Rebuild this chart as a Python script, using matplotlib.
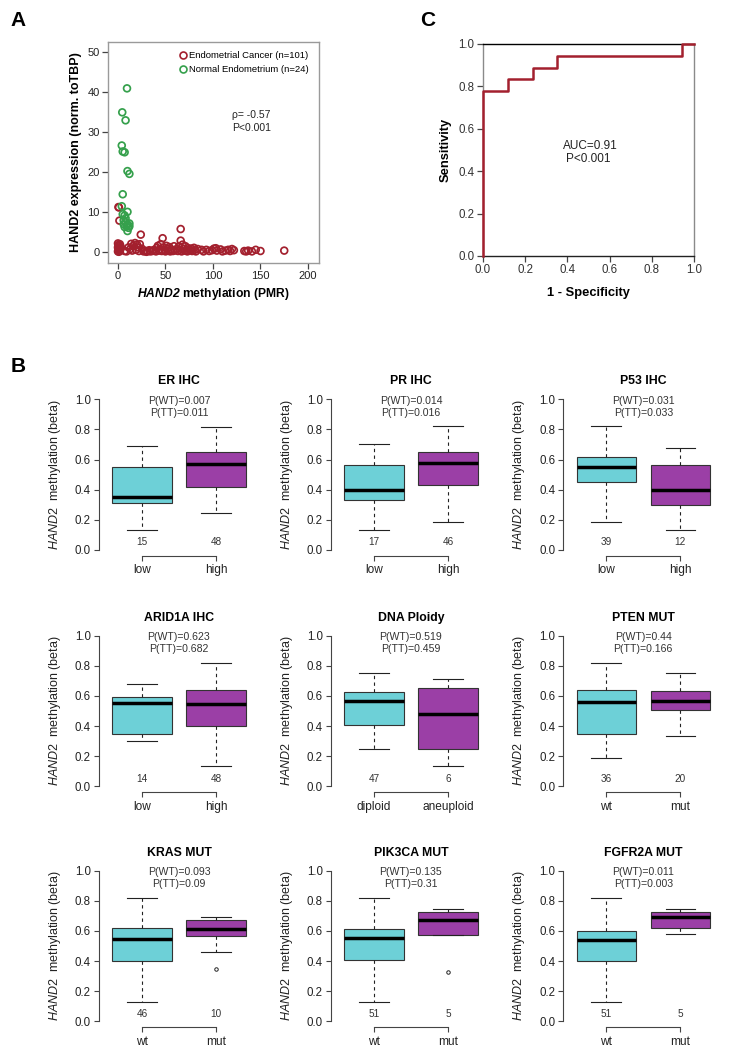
import numpy as np
import matplotlib
matplotlib.use("Agg")
import matplotlib.pyplot as plt
from matplotlib.lines import Line2D

plt.rcParams["font.family"] = ["Liberation Sans", "DejaVu Sans"]
plt.rcParams["mathtext.fontset"] = "custom"
plt.rcParams["mathtext.rm"] = "Liberation Sans"
plt.rcParams["mathtext.it"] = "Liberation Sans:italic"
plt.rcParams["mathtext.bf"] = "Liberation Sans:bold"
plt.rcParams["mathtext.bfit"] = "Liberation Sans:italic:bold"

W, H = 729, 1057

# panel A: HAND2 methylation (PMR) vs expression
cancer_x = [0.5, 1, 1.5,
            0, 0.5, 1, 0, 1.5, 0.5, 2, 0, 1, 2, 3, 2.5,
            7, 9, 11, 13, 14, 15, 16, 18, 19, 20, 21, 22, 23, 24, 25,
            27, 28, 30, 31, 33, 34, 36, 38, 40, 41, 42, 43, 44, 45, 46, 47, 48, 49,
            50, 51, 52, 53, 54, 55, 56, 58, 59, 60,
            62, 63, 64, 65, 66, 66, 67, 68, 69, 70, 71, 72, 73, 74, 76, 77, 78, 80,
            81, 82, 84, 88, 90,
            93, 96, 99, 101, 103, 104, 108, 110, 113, 116, 118, 120, 122,
            133, 135, 137, 141, 145, 150, 175]
cancer_y = [11.3, 11.2, 7.9,
            2.2, 1.8, 1.5, 1.2, 1.0, 0.7, 0.4, 0.2, 0.1, 2.0, 1.3, 0.8,
            0.3, 0.2, 1.2, 0.8, 2.1, 0.4, 1.6, 2.3, 0.6, 1.9, 1.2, 0.3, 2.0, 4.4, 0.9,
            0.2, 0.4, 0.1, 0.3, 0.5, 0.2, 0.3, 0.6, 0.2, 1.1, 1.6, 0.4, 0.7, 2.0, 0.3, 3.5, 1.2, 0.6,
            0.2, 1.6, 0.9, 0.4, 1.3, 0.2, 0.7, 0.3, 1.5, 0.5,
            0.8, 0.3, 1.4, 0.6, 5.8, 2.9, 0.2, 1.9, 0.9, 0.4, 1.5, 0.6, 0.2, 1.0, 0.5, 0.9, 0.3, 1.1,
            0.6, 0.2, 0.8, 0.6, 0.2,
            0.6, 0.3, 0.5, 0.9, 1.0, 0.4, 0.7, 0.2, 0.4, 0.6, 0.3, 0.8, 0.5,
            0.3, 0.2, 0.4, 0.2, 0.6, 0.3, 0.4]
normal_x = [9.5, 4.5, 8, 4, 5, 7, 10, 12, 5, 4, 10, 5, 7, 6, 8, 10, 12, 9, 7, 11, 10, 6, 8, 12]
normal_y = [41, 35, 33, 26.7, 25.2, 25, 20.3, 19.6, 14.5, 11.5, 10.1, 9.5, 9.2, 8, 7.5, 7,
            7.2, 6.5, 6.3, 6.1, 5.3, 7, 8.5, 6.5]

# panel C: ROC curve
roc_fpr = [0.0, 0.0, 0.118, 0.235, 0.353, 0.941, 1.0]
roc_tpr = [0.0, 0.778, 0.833, 0.889, 0.944, 1.0, 1.0]

# panel B: box plots
box_titles = ["ER IHC", "PR IHC", "P53 IHC", "ARID1A IHC", "DNA Ploidy", "PTEN MUT",
              "KRAS MUT", "PIK3CA MUT", "FGFR2A MUT"]
p_wt = ["0.007", "0.014", "0.031", "0.623", "0.519", "0.44", "0.093", "0.135", "0.011"]
p_tt = ["0.011", "0.016", "0.033", "0.682", "0.459", "0.166", "0.09", "0.31", "0.003"]
group_labels = [["low", "high"]] * 4 + [["diploid", "aneuploid"]] + [["wt", "mut"]] * 4
n_counts = [[15, 48], [17, 46], [39, 12], [14, 48], [47, 6], [36, 20], [46, 10], [51, 5], [51, 5]]
whis_lo = [[0.133, 0.248], [0.133, 0.189], [0.189, 0.133], [0.299, 0.133], [0.251, 0.135],
           [0.191, 0.333], [0.131, 0.459], [0.131, 0.576], [0.131, 0.579]]
q1 = [[0.312, 0.416], [0.329, 0.431], [0.449, 0.296], [0.348, 0.404], [0.406, 0.251],
      [0.346, 0.506], [0.404, 0.570], [0.410, 0.576], [0.404, 0.620]]
med = [[0.354, 0.571], [0.400, 0.576], [0.549, 0.400], [0.554, 0.548], [0.565, 0.483],
       [0.557, 0.568], [0.545, 0.610], [0.554, 0.672], [0.543, 0.690]]
q3 = [[0.549, 0.648], [0.564, 0.649], [0.620, 0.562], [0.596, 0.639], [0.627, 0.656],
      [0.639, 0.634], [0.621, 0.672], [0.610, 0.727], [0.603, 0.727]]
whis_hi = [[0.692, 0.819], [0.704, 0.822], [0.822, 0.678], [0.678, 0.820], [0.752, 0.712],
           [0.820, 0.752], [0.816, 0.692], [0.816, 0.747], [0.816, 0.747]]
outliers = [[[], []]] * 6 + [[[], [0.35]], [[], [0.326]], [[], []]]

box_colors = ["#6dd0d7", "#9b3fa6"]
red = "#a3202e"
green = "#35a04c"
txt = "#222222"


def px_axes(fig, left, top, right, bottom):
    return fig.add_axes([left / W, 1 - bottom / H, (right - left) / W, (bottom - top) / H])


fig = plt.figure(figsize=(W / 100, H / 100), dpi=100)

# ---- panel A
ax = px_axes(fig, 108, 42, 319, 263)
ax.scatter(cancer_x, cancer_y, s=24, facecolors="none", edgecolors=red, linewidths=1.25, clip_on=False)
ax.scatter(normal_x, normal_y, s=24, facecolors="none", edgecolors=green, linewidths=1.25, clip_on=False)
ax.set_xlim(-10.5, 211.6)
ax.set_ylim(-2.7, 52.6)
ax.set_xticks([0, 50, 100, 150, 200])
ax.set_yticks([0, 10, 20, 30, 40, 50])
for s in ax.spines.values():
    s.set_color("#9a9a9a")
    s.set_linewidth(1.0)
ax.tick_params(length=4, width=0.9, color="#444444", labelsize=8, labelcolor=txt, pad=2)
ax.set_xlabel(r"$\mathbfit{HAND2}$ methylation (PMR)", fontsize=8.7, fontweight="bold", labelpad=3)
ax.set_ylabel("HAND2 expression (norm. toTBP)", fontsize=9, fontweight="bold", labelpad=4)
ax.text(120, 34.3, "\u03c1= -0.57", fontsize=7.5, va="center", color=txt)
ax.text(120, 31.2, "P<0.001", fontsize=7.5, va="center", color=txt)
handles = [Line2D([], [], ls="none", marker="o", mfc="none", mec=red, mew=1.2, ms=5),
           Line2D([], [], ls="none", marker="o", mfc="none", mec=green, mew=1.2, ms=5)]
ax.legend(handles, ["Endometrial Cancer (n=101)", "Normal Endometrium (n=24)"],
          loc="upper right", bbox_to_anchor=(0.985, 0.99), frameon=False, fontsize=6.8,
          handletextpad=0.1, borderaxespad=0.3, labelspacing=0.55, handlelength=1.2)
fig.text(10 / W, 1 - 21 / H, "A", fontsize=15, fontweight="bold", va="center")

# ---- panel C
ax = px_axes(fig, 483, 44, 694, 256)
ax.plot(roc_fpr, roc_tpr, drawstyle="steps-post", color=red, lw=1.8, clip_on=False, zorder=5)
ax.set_xlim(0, 1)
ax.set_ylim(0, 1)
ticks = [0.0, 0.2, 0.4, 0.6, 0.8, 1.0]
ax.set_xticks(ticks)
ax.set_yticks(ticks)
ax.set_xticklabels([f"{t:.1f}" for t in ticks])
ax.set_yticklabels([f"{t:.1f}" for t in ticks])
ax.spines["left"].set_color("#8a8a8a")
ax.spines["right"].set_color("#8a8a8a")
ax.spines["top"].set_color("black")
ax.spines["bottom"].set_color("#222222")
for s in ax.spines.values():
    s.set_linewidth(1.0)
ax.tick_params(length=4, width=0.9, color="#444444", labelsize=8.3, labelcolor="#333333", pad=2)
ax.set_xlabel("1 - Specificity", fontsize=9.3, fontweight="bold", labelpad=8)
ax.set_ylabel("Sensitivity", fontsize=9.3, fontweight="bold", labelpad=5)
ax.text(0.507, 0.52, "AUC=0.91", fontsize=8.5, ha="center", va="center", color=txt)
ax.text(0.499, 0.457, "P<0.001", fontsize=8.5, ha="center", va="center", color=txt)
fig.text(420 / W, 1 - 21 / H, "C", fontsize=15, fontweight="bold", va="center")

# ---- panel B
fig.text(11 / W, 1 - 367 / H, "B", fontsize=15, fontweight="bold", va="center")
col_left = [99, 331, 563.3]
row_top = [393.3, 629.7, 864.7]
bw, bh = 160, 162.7

for i in range(9):
    r, c = divmod(i, 3)
    left, top = col_left[c], row_top[r]
    ax = px_axes(fig, left, top, left + bw, top + bh)
    stats = []
    for g in range(2):
        stats.append(dict(whislo=whis_lo[i][g], q1=q1[i][g], med=med[i][g], q3=q3[i][g],
                          whishi=whis_hi[i][g], fliers=outliers[i][g]))
    bp = ax.bxp(stats, positions=[1, 2], widths=0.8, capwidths=0.4, patch_artist=True,
                boxprops=dict(edgecolor="#333333", linewidth=0.8),
                whiskerprops=dict(color="#222222", linewidth=0.8, linestyle=(0, (3, 3))),
                capprops=dict(color="#222222", linewidth=0.8),
                medianprops=dict(color="black", linewidth=2.5, solid_capstyle="butt"),
                flierprops=dict(marker="o", mfc="none", mec="#222222", ms=2.5, mew=0.7))
    for patch, col in zip(bp["boxes"], box_colors):
        patch.set_facecolor(col)
    ax.set_xlim(0.42, 2.58)
    ax.set_ylim(-0.04, 1.04)
    for s in ["top", "right"]:
        ax.spines[s].set_visible(False)
    ax.spines["left"].set_bounds(0, 1)
    ax.spines["bottom"].set_bounds(1, 2)
    for s in ["left", "bottom"]:
        ax.spines[s].set_color("#444444")
        ax.spines[s].set_linewidth(0.8)
    ax.set_yticks([0.0, 0.2, 0.4, 0.6, 0.8, 1.0])
    ax.set_yticklabels(["0.0", "0.2", "0.4", "0.6", "0.8", "1.0"])
    ax.set_xticks([1, 2])
    ax.set_xticklabels(group_labels[i])
    ax.tick_params(axis="y", length=3.3, width=0.8, color="#444444", labelsize=8.3,
                   labelcolor=txt, pad=2.5)
    ax.tick_params(axis="x", length=3.5, width=0.8, color="#444444", labelsize=8.6,
                   labelcolor=txt, pad=2.5)
    ax.text(1.5, 1.12, box_titles[i], fontsize=8.8, fontweight="bold", ha="center", va="center")
    ax.text(1.5, 0.989, "P(WT)=" + p_wt[i], fontsize=7.6, ha="center", va="center", color="#333333")
    ax.text(1.5, 0.909, "P(TT)=" + p_tt[i], fontsize=7.6, ha="center", va="center", color="#333333")
    for g in range(2):
        ax.text(g + 1, 0.05, str(n_counts[i][g]), fontsize=7.2, ha="center", va="center",
                color="#333333")
    ax.text(-0.275, 0.5, r"$\mathit{HAND2}$  methylation (beta)", transform=ax.transAxes,
            rotation=90, fontsize=9, ha="center", va="center", color=txt)

fig.savefig("out.png", dpi=100)
